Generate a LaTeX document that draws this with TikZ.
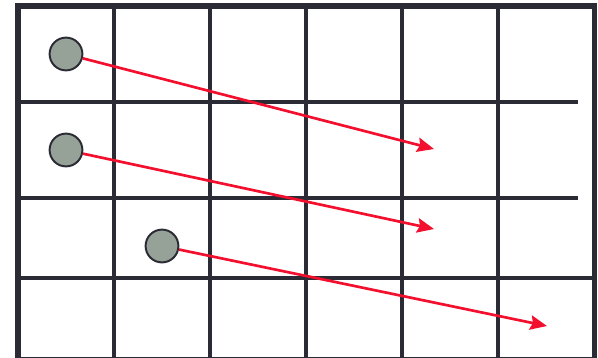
\documentclass[tikz,border=0pt]{standalone}
\usepackage{tikz}
\usetikzlibrary{arrows.meta,positioning}
\definecolor{gridcol}{HTML}{2B2B35}
\definecolor{dotfill}{HTML}{96A298}
\definecolor{movecol}{HTML}{F2102E}
\tikzset{
  cell/.style={draw=gridcol, line width=2.2pt},
  frame/.style={draw=gridcol, line width=4pt},
  dot/.style={circle, draw=gridcol, line width=1.4pt, fill=dotfill, inner sep=0pt, minimum size=0.82cm},
  move/.style={draw=movecol, line width=1.9pt, -{Stealth[length=0.42cm, width=0.36cm, inset=0.06cm]}}
}

\begin{document}
\begin{tikzpicture}[x=0.025cm, y=-0.025cm]
\useasboundingbox (0,0) rectangle (598,357);
\draw[cell](114,6) -- (114,357);
\draw[cell](210,6) -- (210,357);
\draw[cell](306,6) -- (306,357);
\draw[cell](402,6) -- (402,357);
\draw[cell](498,6) -- (498,357);
\draw[cell](18,102) -- (578,102);
\draw[cell](18,198) -- (578,198);
\draw[cell](18,278) -- (594,278);
\draw[frame](18,6) rectangle (594.5,359.5);
\draw(66,54) node[dot] (p1) {};
\draw(66,150) node[dot] (p2) {};
\draw(162,246) node[dot] (p3) {};
\coordinate (t1) at (434,149);
\coordinate (t2) at (434,229);
\coordinate (t3) at (547,326);
\draw[move] (p1) -- (t1);
\draw[move] (p2) -- (t2);
\draw[move] (p3) -- (t3);
\end{tikzpicture}
\end{document}
